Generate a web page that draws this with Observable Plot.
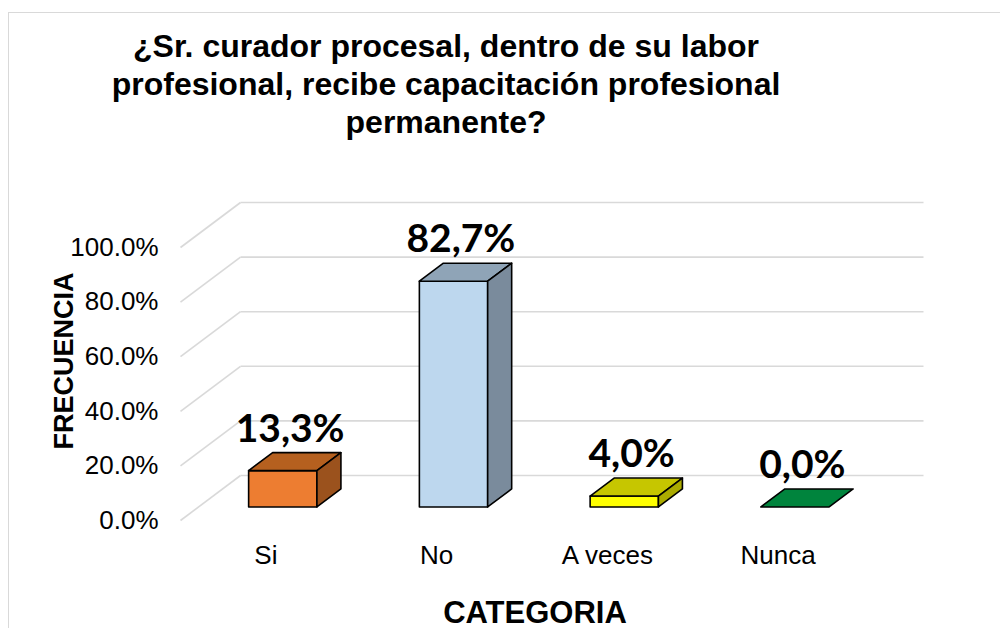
<!DOCTYPE html>
<html>
<head>
<meta charset="utf-8">
<script src="https://cdn.jsdelivr.net/npm/d3@7"></script>
<script src="https://cdn.jsdelivr.net/npm/@observablehq/plot@0.6"></script>
<style>
  html, body { margin: 0; padding: 0; background: #fff; }
  body { width: 1000px; height: 628px; overflow: hidden; position: relative; font-family: "Liberation Sans", Arial, sans-serif; color: #000; }
  #frame { position: absolute; left: 8px; top: 12px; width: 1200px; height: 800px; border: 1.5px solid #d9d9d9; box-sizing: border-box; }
  #title { position: absolute; left: 96px; width: 700px; top: 27px; text-align: center; font-weight: bold; font-size: 32px; line-height: 38px; }
  #chart { position: absolute; left: 0; top: 150px; }
  #ylabel { position: absolute; left: 64px; top: 361px; transform: translate(-50%, -50%) rotate(-90deg); font-weight: bold; font-size: 27px; white-space: nowrap; }
  #xlabel { position: absolute; left: 335px; width: 400px; top: 595px; text-align: center; font-weight: bold; font-size: 31px; line-height: 35px; }
</style>
</head>
<body>
<div id="frame"></div>
<div id="title">¿Sr. curador procesal, dentro de su labor<br>profesional, recibe capacitación profesional<br>permanente?</div>
<div id="chart"></div>
<div id="ylabel">FRECUENCIA</div>
<div id="xlabel">CATEGORIA</div>
<script>
// ---- data ----
const categories = ["Si", "No", "A veces", "Nunca"];
const values = [0.133, 0.827, 0.040, 0.000];
const frontColors = ["#ED7D31", "#BDD7EE", "#FFFF00", "#00843D"];
const topColors = ["#B5601F", "#8FA4B7", "#C6C600", "#00843D"];
const sideColors = ["#9B521D", "#7A8B9C", "#ABAB00", "#006B31"];
const yTicks = [0, 0.2, 0.4, 0.6, 0.8, 1.0];

// ---- pseudo-3D geometry (data units) ----
const DX = 60 / 170.75;   // full depth, in category units
const DY = 45 / 273;      // full depth, in value units
const Z0 = 0.29, Z1 = 0.69, HW = 0.2;
const nCat = categories.length;

const fmt = v => d3.format(".1%")(v).replace(".", ",");

const bars = categories.map((c, i) => ({
  cat: c, i, v: values[i],
  fx1: i + 0.5 - HW + DX * Z0,
  fx2: i + 0.5 + HW + DX * Z0,
  front: frontColors[i], top: topColors[i], side: sideColors[i]
}));
const dd = DX * (Z1 - Z0);
const topFaces = bars.flatMap(b => [
  {cat: b.cat, color: b.top, y: b.v + DY * Z0, x1: b.fx1, x2: b.fx2},
  {cat: b.cat, color: b.top, y: b.v + DY * Z1, x1: b.fx1 + dd, x2: b.fx2 + dd}
]);
const sideFaces = bars.filter(b => b.v > 0).flatMap(b => [
  {cat: b.cat, color: b.side, x: b.fx2, y1: DY * Z0, y2: b.v + DY * Z0},
  {cat: b.cat, color: b.side, x: b.fx2 + dd, y1: DY * Z1, y2: b.v + DY * Z1}
]);

const grid = "#D9D9D9";

const chart = Plot.plot({
  width: 1000,
  height: 430,
  marginLeft: 180,
  marginRight: 137,
  marginTop: 97,
  marginBottom: 60,
  style: {fontFamily: "Liberation Sans, Arial, sans-serif", color: "#000", background: "transparent", overflow: "visible"},
  x: {domain: [0, nCat]},
  y: {domain: [0, 1]},
  color: {type: "identity"},
  marks: [
    // side wall gridlines (front-left diagonal)
    Plot.link(yTicks, {x1: 0, y1: d => d, x2: DX, y2: d => d + DY, stroke: grid, strokeWidth: 1.6}),
    // back wall gridlines
    Plot.link(yTicks, {x1: DX, y1: d => d + DY, x2: nCat + DX, y2: d => d + DY, stroke: grid, strokeWidth: 1.6}),
    // front faces
    Plot.rect(bars.filter(b => b.v > 0), {x1: "fx1", x2: "fx2", y1: DY * Z0, y2: b => b.v + DY * Z0, fill: "front", stroke: "#000", strokeWidth: 1.6, strokeLinejoin: "round"}),
    // top faces
    Plot.areaX(topFaces, {y: "y", x1: "x1", x2: "x2", z: "cat", fill: "color", stroke: "#000", strokeWidth: 1.6, strokeLinejoin: "round"}),
    // side faces
    Plot.areaY(sideFaces, {x: "x", y1: "y1", y2: "y2", z: "cat", fill: "color", stroke: "#000", strokeWidth: 1.6, strokeLinejoin: "round"}),
    // value labels
    Plot.text(bars, {x: b => b.i + 0.5 + DX * Z0 + 0.04, y: b => b.v + DY * Z0, text: b => fmt(b.v), dy: -42, fontSize: 39, fontWeight: "bold", fontFamily: "Lato, 'Open Sans', sans-serif", fill: "#000"}),
    // axes
    Plot.axisY({ticks: yTicks, tickFormat: d3.format(".1%"), tickSize: 0, tickPadding: 22, fontSize: 26, label: null}),
    Plot.axisX({ticks: d3.range(nCat).map(i => i + 0.5), tickFormat: d => categories[Math.floor(d)], tickSize: 0, tickPadding: 25, fontSize: 26, label: null})
  ]
});
document.getElementById("chart").appendChild(chart);
</script>
</body>
</html>
